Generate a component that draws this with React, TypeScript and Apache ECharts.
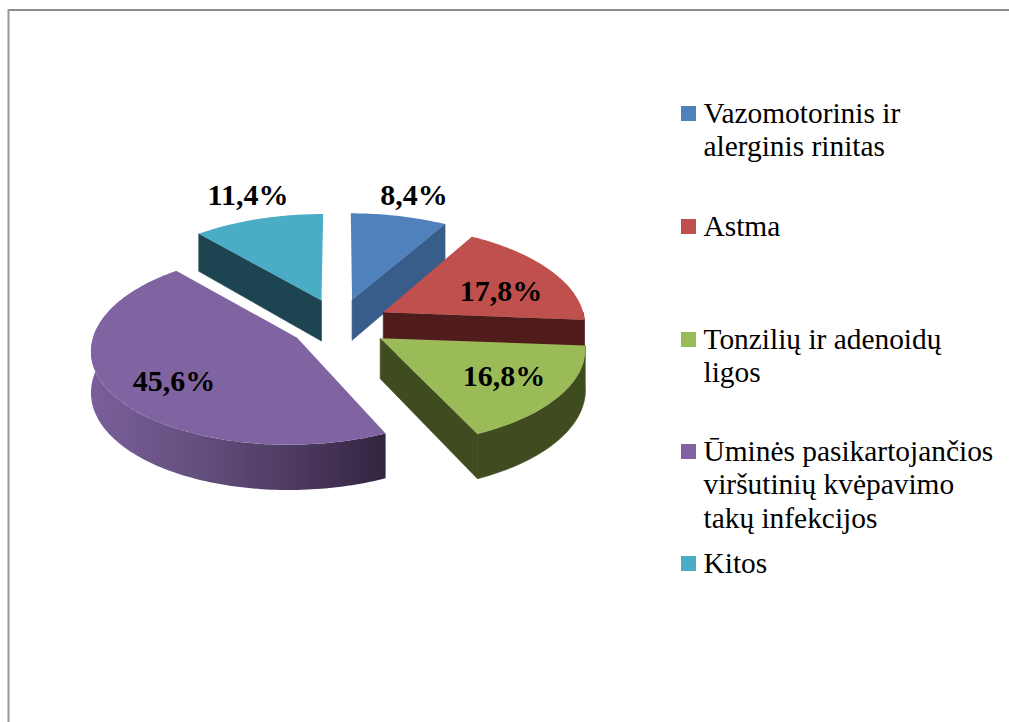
import React, { useEffect, useRef } from "react";
import * as echarts from "echarts";

const categories = [
  "Vazomotorinis ir\nalerginis rinitas",
  "Astma",
  "Tonzilių ir adenoidų\nligos",
  "Ūminės pasikartojančios\nviršutinių kvėpavimo\ntakų infekcijos",
  "Kitos",
];
const shareValues = [8.4, 17.8, 16.8, 45.6, 11.4];
const topColors = ["#4f81bd", "#c0504d", "#9bbb59", "#8064a2", "#4bacc6"];
const sideColors = ["#385d8a", "#4f1c1b", "#3f4c20", "#33243f", "#1d4551"];
const paintOrder = [0, 1, 3, 2, 0];
const radiusScale = [1, 0.98, 1, 1, 1];
const labelCentres = [
  [414, 194],
  [501, 290],
  [504, 375],
  [174, 380],
  [248, 194],
];
const legendTops = [106, 219, 332, 444, 556];

const SERIF = '"Liberation Serif", "Times New Roman", serif';
const CX = 339, CY = 324, EX = 50, EY = 25;
const RX = 204, RY = 95.7, P = 0.106, DEPTH = 40.5, FRONT_SHEAR = 3.5;
const total = shareValues.reduce((a, b) => a + b, 0);
const rad = (f: number) => f * 2 * Math.PI;

function rimPoint(dx: number, ay: number, ang: number, down: boolean, k: number) {
  const u = Math.sin(ang), v = Math.cos(ang);
  const s = 1 / (1 + P * v);
  const shear = v < 0 ? FRONT_SHEAR * v : 0;
  return [CX + (dx + RX * k * u) * s + shear, ay - RY * v * s + (down ? DEPTH * s : 0)];
}
function arcPoints(dx: number, ay: number, a0: number, a1: number, down: boolean, k: number) {
  const n = Math.max(2, Math.ceil(Math.abs(a1 - a0) / 0.02));
  const pts: number[][] = [];
  for (let i = 0; i <= n; i++) pts.push(rimPoint(dx, ay, a0 + ((a1 - a0) * i) / n, down, k));
  return pts;
}

const renderSlice = (params: any) => {
  const i = params.dataIndex;
  let before = 0;
  for (let j = 0; j < i; j++) before += shareValues[j];
  const a0 = rad(before / total);
  const a1 = rad((before + shareValues[i]) / total);
  const mid = (a0 + a1) / 2;
  const k = radiusScale[i];
  const dx = EX * Math.sin(mid);
  const ax = CX + dx;
  const ay = CY - EY * Math.cos(mid);
  const apexLow = [ax, ay + DEPTH];
  const z = paintOrder[i] * 10;
  const side = sideColors[i];
  const children: any[] = [];
  const poly = (points: number[][], fill: any, zz: number, stroke: any) =>
    children.push({
      type: "polygon",
      z2: z + zz,
      shape: { points },
      style: { fill, stroke, lineWidth: stroke === "none" ? 0 : 0.6 },
    });

  // inner cut faces that look towards the viewer
  const cutFace = (ang: number) => {
    const top = rimPoint(dx, ay, ang, false, k);
    const low = rimPoint(dx, ay, ang, true, k);
    poly([[ax, ay], top, low, apexLow], side, 0, side);
  };
  if (Math.sin(a1) > 0) cutFace(a1);
  if (Math.sin(a0) < -1e-6) cutFace(a0);

  // outer rim, only where it faces the viewer
  const rimA0 = Math.max(a0, Math.PI / 2);
  const rimA1 = Math.min(a1, (3 * Math.PI) / 2 + 0.1);
  if (rimA1 > rimA0) {
    const top = arcPoints(dx, ay, rimA0, rimA1, false, k);
    const low = arcPoints(dx, ay, rimA0, rimA1, true, k);
    const fill =
      i === 3
        ? {
            type: "linear", x: 0, y: 0, x2: 1, y2: 0,
            colorStops: [
              { offset: 0, color: "#7a5f9a" },
              { offset: 0.35, color: "#64507f" },
              { offset: 0.7, color: "#4c3a60" },
              { offset: 1, color: "#33243f" },
            ],
          }
        : side;
    poly(top.concat(low.reverse()), fill, 1, i === 3 ? "none" : side);
  }

  // top face
  poly([[ax, ay], ...arcPoints(dx, ay, a0, a1, false, k)], topColors[i], 2, "none");

  children.push({
    type: "text",
    z2: 100,
    style: {
      x: labelCentres[i][0],
      y: labelCentres[i][1],
      text: shareValues[i].toFixed(1).replace(".", ",") + "%",
      fill: "#000",
      font: `bold 30px ${SERIF}`,
      align: "center",
      verticalAlign: "middle",
    },
  });
  return { type: "group", children };
};

export default function App() {
  const ref = useRef<HTMLDivElement>(null);
  useEffect(() => {
    const chart = echarts.init(ref.current!, undefined, { renderer: "svg" });
    const graphic: any[] = [
      { type: "line", shape: { x1: 8, y1: 10, x2: 1009, y2: 10 }, style: { stroke: "#8c8c8c", lineWidth: 2 } },
      { type: "line", shape: { x1: 8.5, y1: 9, x2: 8.5, y2: 722 }, style: { stroke: "#999999", lineWidth: 2 } },
    ];
    categories.forEach((name, i) => {
      graphic.push({
        type: "rect",
        shape: { x: 681, y: legendTops[i], width: 15, height: 15 },
        style: { fill: topColors[i] },
      });
      graphic.push({
        type: "text",
        x: 703.5,
        y: legendTops[i] - 10,
        style: {
          text: name,
          fill: "#000",
          font: `29.4px ${SERIF}`,
          lineHeight: 33.5,
          align: "left",
          verticalAlign: "top",
        },
      });
    });
    chart.setOption({
      animation: false,
      backgroundColor: "#ffffff",
      graphic,
      series: [
        {
          type: "custom",
          coordinateSystem: "none",
          renderItem: renderSlice,
          data: shareValues.map((v, i) => ({ name: categories[i], value: v })),
        },
      ],
    });
    return () => chart.dispose();
  }, []);
  return (
    <div
      ref={ref}
      style={{ position: "fixed", left: 0, top: 0, width: 1009, height: 722 }}
    />
  );
}
